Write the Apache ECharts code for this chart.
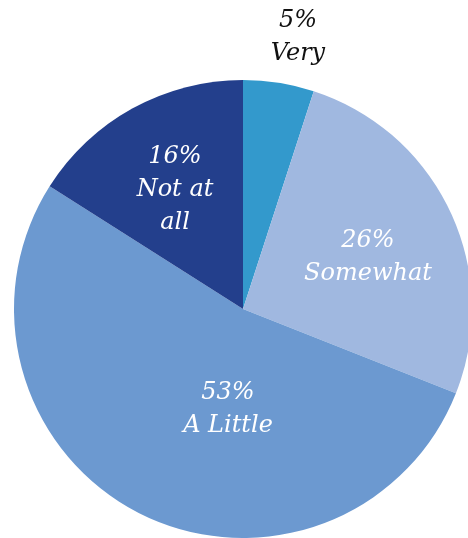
<!DOCTYPE html>
<html>
<head>
<meta charset="utf-8">
<script src="https://cdn.jsdelivr.net/npm/echarts@6/dist/echarts.min.js"></script>
<style>
  html, body { margin: 0; padding: 0; background: #fff; }
  #chart { width: 468px; height: 538px; }
</style>
</head>
<body>
<div id="chart"></div>
<script>
var categories = ['Very', 'Somewhat', 'A Little', 'Not at all'];
var percents = [5, 26, 53, 16];
var sliceLabels = ['Very', 'Somewhat', 'A Little', 'Not at\nall'];
var colors = ['#3399cc', '#a0b8e0', '#6c99d0', '#233f8c'];

// where the labels sit (the source placed them by hand)
var labelPos = [[298, 37], [368, 257], [228, 409], [175, 190]];

var pieData = [];
for (var i = 0; i < categories.length; i++) {
  pieData.push({
    name: categories[i],
    value: percents[i],
    itemStyle: { color: colors[i] },
    label: {
      formatter: percents[i] + '%\n' + sliceLabels[i],
      color: i === 0 ? '#111' : '#fff'
    }
  });
}

var myChart = echarts.init(document.getElementById('chart'));
myChart.setOption({
  animation: false,
  series: [{
    type: 'pie',
    center: [243, 309],
    radius: 229,
    startAngle: 90,
    clockwise: true,
    data: pieData,
    label: {
      position: 'inside',
      fontFamily: "'DejaVu Serif', serif",
      fontStyle: 'italic',
      fontSize: 24,
      lineHeight: 33,
      align: 'center'
    },
    labelLine: { show: false },
    labelLayout: function (params) {
      var p = labelPos[params.dataIndex];
      return { x: p[0], y: p[1], align: 'center', verticalAlign: 'middle' };
    }
  }]
});
</script>
</body>
</html>
